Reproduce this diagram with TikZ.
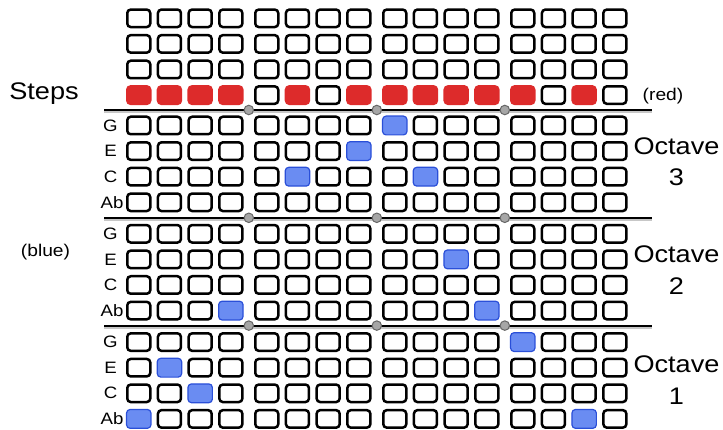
\documentclass[tikz,border=0pt]{standalone}
\usepackage{fontspec}
\setmainfont[FakeStretch=1.13]{Liberation Sans}
\definecolor{stepred}{HTML}{DD2B2B}
\definecolor{noteblue}{HTML}{6A8CF2}
\definecolor{noteedge}{HTML}{2A4FD8}
\begin{document}
\begin{tikzpicture}[x=1pt,y=-1pt,
  cell/.style={draw=black, line width=2.5pt, fill=white, rounded corners=3.5pt,
    minimum width=23pt, minimum height=17.5pt, inner sep=0pt},
  redcell/.style={cell, draw=stepred, fill=stepred},
  bluecell/.style={draw=noteedge, line width=1.2pt, fill=noteblue, rounded corners=3.5pt,
    minimum width=24.4pt, minimum height=18.8pt, inner sep=0pt},
  sep/.style={draw=black, line width=2pt},
  sepshade/.style={draw=black!22, line width=2pt},
  joint/.style={circle, draw=black!60, fill=black!35, line width=1pt, minimum size=9.5pt, inner sep=0pt},
  notelabel/.style={font=\fontsize{16.5}{16.5}\selectfont, inner sep=0pt},
  biglabel/.style={font=\fontsize{24}{24}\selectfont, inner sep=0pt},
  smalllabel/.style={font=\fontsize{17}{17}\selectfont, inner sep=0pt}]
\useasboundingbox (0,0) rectangle (723,430);
% red steps
\foreach \cc in {0,1,2,3,5,7,8,9,10,11,12,14} {\expandafter\gdef\csname rd-\cc\endcsname{}}
% blue notes: octave block / row / column
\foreach \k/\rr/\cc in {0/0/8,0/1/7,0/2/5,0/2/9,1/1/10,1/3/3,1/3/11,2/0/12,2/1/1,2/2/2,2/3/0,2/3/14}
  {\expandafter\gdef\csname bl-\k-\rr-\cc\endcsname{}}
% top section
\foreach \rr in {0,...,3} {
  \foreach \cc in {0,...,15} {
    \pgfmathsetmacro\xx{126+128*int(\cc/4)+30.7*mod(\cc,4)+12.75}
    \pgfmathsetmacro\yy{8.3+25.6*\rr+10}
    \def\sty{cell}
    \ifnum\rr=3 \ifcsname rd-\cc\endcsname\def\sty{redcell}\fi\fi
    \node[\sty] (t-\rr-\cc) at (\xx,\yy) {};
  }
}
% octave sections
\foreach \k in {0,1,2} {
  \foreach \rr in {0,...,3} {
    \foreach \cc in {0,...,15} {
      \pgfmathsetmacro\xx{126+128*int(\cc/4)+30.7*mod(\cc,4)+12.75}
      \pgfmathsetmacro\yy{115.5+108.3*\k+25.6*\rr+10}
      \def\sty{cell}
      \ifcsname bl-\k-\rr-\cc\endcsname\def\sty{bluecell}\fi
      \node[\sty] (o-\k-\rr-\cc) at (\xx,\yy) {};
    }
  }
  \pgfmathsetmacro\yg{115.5+108.3*\k+10}
  \node[notelabel] (lg-\k) at (110.5,\yg) {G};
  \node[notelabel] (le-\k) at (110.5,\yg+25.6) {E};
  \node[notelabel] (lc-\k) at (110.5,\yg+51.2) {C};
  \node[notelabel] (la-\k) at (112,\yg+76.8) {Ab};
  % separator line
  \pgfmathsetmacro\ys{110+107.8*\k}
  \draw[sepshade] (104,\ys+2.2) -- (652,\ys+2.2);
  \draw[sep] (104,\ys) -- (652,\ys);
  \node[joint] (j-\k-1) at (248.8,\ys) {};
  \node[joint] (j-\k-2) at (376.8,\ys) {};
  \node[joint] (j-\k-3) at (504.8,\ys) {};
}
% labels
\node[biglabel] (steps) at (44,94) {Steps};
\node[smalllabel] (red) at (663,96) {(red)};
\node[smalllabel] (blue) at (45.5,252) {(blue)};
\node[biglabel] (oct3) at (676.5,146) {Octave};
\node[biglabel] (n3) at (676.5,177.5) {3};
\node[biglabel] (oct2) at (676.5,254.5) {Octave};
\node[biglabel] (n2) at (676.5,286.5) {2};
\node[biglabel] (oct1) at (676.5,364.5) {Octave};
\node[biglabel] (n1) at (676.5,396) {1};
\end{tikzpicture}
\end{document}
